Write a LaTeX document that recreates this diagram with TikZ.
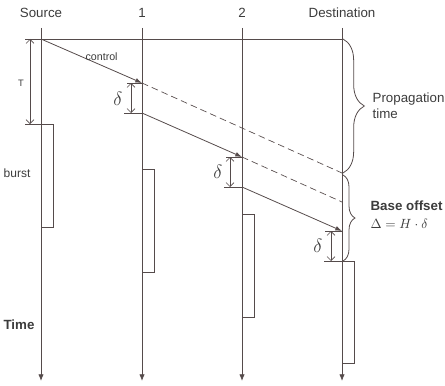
\documentclass[tikz,border=0pt]{standalone}
\usepackage{fontspec}
\setmainfont{Liberation Sans}
\usetikzlibrary{arrows.meta, decorations.pathreplacing, positioning}

\definecolor{linec}{RGB}{85,75,75}
\definecolor{textc}{RGB}{60,60,60}

\tikzset{
	axis/.style={draw=linec, line width=0.6pt, -{Latex[length=5pt,width=4pt]}},
	msg/.style={draw=linec, line width=0.6pt, -{Latex[length=5pt,width=3.5pt]}},
	ghost/.style={draw=linec, line width=0.5pt, dash pattern=on 5pt off 3pt},
	gap/.style={draw=linec, line width=0.5pt, {Straight Barb[length=3pt]}-{Straight Barb[length=3pt]}},
	tick/.style={draw=linec, line width=0.5pt},
	burstbox/.style={draw=linec, line width=0.5pt},
	lbl/.style={text=textc, font=\small, inner sep=1pt},
	head/.style={text=textc, font=\normalsize, inner sep=1pt},
	dlt/.style={text=textc, font=\Large, inner sep=0pt},
	brc/.style={draw=linec, line width=0.6pt, decorate},
}

\begin{document}
\begin{tikzpicture}[x=0.75pt, y=-0.75pt]

	\useasboundingbox (0,0) rectangle (445,385);

	% stations
	\node[head] (src) at (41,13) {Source};
	\node[head] (n1) at (142,13) {1};
	\node[head] (n2) at (242,13) {2};
	\node[head] (dst) at (342,13) {Destination};

	\coordinate (s-top) at (41,28);
	\coordinate (s-end) at (41,381);
	\coordinate (n1-top) at (142,28);
	\coordinate (n1-end) at (142,381);
	\coordinate (n2-top) at (242,28);
	\coordinate (n2-end) at (242,381);
	\coordinate (d-top) at (342,28);
	\coordinate (d-end) at (342,381);

	\draw[axis] (s-top) -- (s-end);
	\draw[axis] (n1-top) -- (n1-end);
	\draw[axis] (n2-top) -- (n2-end);
	\draw[axis] (d-top) -- (d-end);

	% control packet
	\coordinate (s-tx) at (41,39);
	\coordinate (n1-rx) at (142,83);
	\coordinate (n1-tx) at (142,113);
	\coordinate (n2-rx) at (242,157);
	\coordinate (n2-tx) at (242,187);
	\coordinate (d-rx) at (342,231);
	\coordinate (d-tx) at (342,261);
	\coordinate (d-p1) at (342,173);
	\coordinate (d-p2) at (342,202);
	\coordinate (t-left) at (25,39);
	\coordinate (d-t0) at (342,39);

	\draw[tick] (t-left) -- (d-t0);
	\draw[msg] (s-tx) -- (n1-rx) node[lbl, pos=0.6, above=2pt, font=\footnotesize] {control};
	\draw[msg] (n1-tx) -- (n2-rx);
	\draw[msg] (n2-tx) -- (d-rx);
	\draw[ghost] (n1-rx) -- (d-p1);
	\draw[ghost] (n2-rx) -- (d-p2);

	% offset T
	\coordinate (b-top) at (25,124);
	\draw[gap] (30,39) -- (30,124);
	\node[lbl, font=\scriptsize] (T) at (21,83) {T};
	\draw[tick] (b-top) -- (53,124) -- (53,227) -- (41,227);
	\node[lbl] (burst) at (17,173) {burst};

	% delays
	\draw[tick] (n1-rx) -- ++(-15,0);
	\draw[tick] (n1-tx) -- ++(-18,0);
	\draw[gap] (131,83) -- (131,113);
	\node[dlt] (dl1) at (118,99) {$\delta$};

	\draw[tick] (n2-rx) -- ++(-16,0);
	\draw[tick] (n2-tx) -- ++(-18,0);
	\draw[gap] (230,157) -- (230,187);
	\node[dlt] (dl2) at (218,172) {$\delta$};

	\draw[tick] (d-rx) -- ++(-17,0);
	\draw[tick] (d-tx) -- ++(-18,0);
	\draw[gap] (331,231) -- (331,261);
	\node[dlt] (dl3) at (318,246) {$\delta$};

	% bursts
	\draw[burstbox] (142,169) rectangle (154,272);
	\draw[burstbox] (242,214) rectangle (254,317);
	\draw[burstbox] (d-tx) rectangle (354,363);

	% braces
	\draw[brc, decoration={brace, amplitude=16pt}] (343,39) -- (343,173);
	\node[lbl, font=\normalsize, align=left, anchor=west] (prop) at (371,106) {Propagation\\time};
	\draw[brc, decoration={brace, amplitude=9pt}] (343,175) -- (343,261);
	\node[lbl, font=\normalsize\bfseries, anchor=west] (base) at (369,206) {Base offset};
	\node[lbl, font=\normalsize, below=4pt of base.south west, anchor=north west] (eq) {$\Delta = H\cdot\delta$};

	\node[lbl, font=\normalsize\bfseries] (time) at (19,325) {Time};

\end{tikzpicture}
\end{document}
